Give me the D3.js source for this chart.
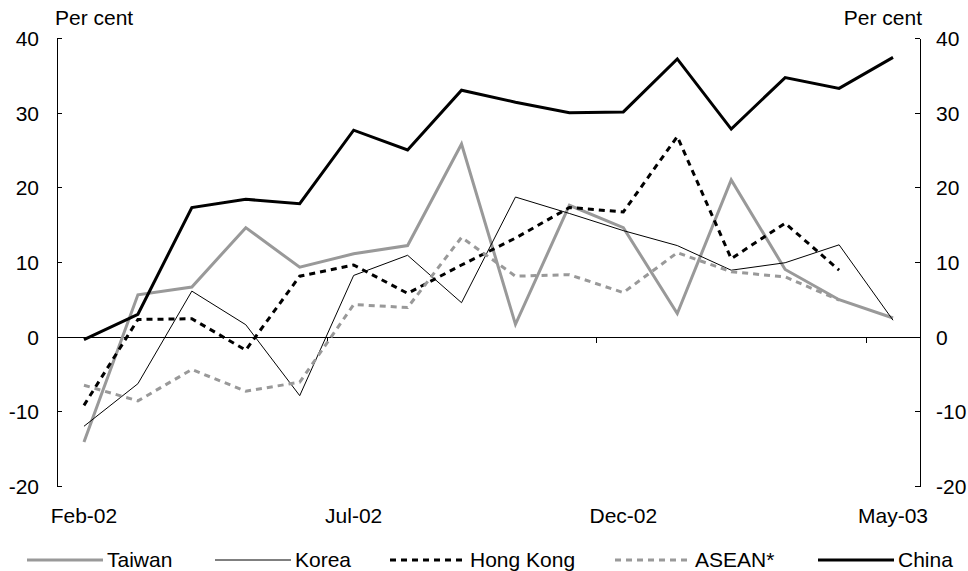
<!DOCTYPE html>
<html>
<head>
<meta charset="utf-8">
<script src="https://cdn.jsdelivr.net/npm/d3@7"></script>
<style>
  html, body { margin: 0; padding: 0; background: #fff; }
  svg { display: block; font-family: "Liberation Sans", Arial, sans-serif; }
  .axis path, .axis line { stroke: #000; shape-rendering: crispEdges; }
  .axis text { font-size: 21px; fill: #000; font-family: "Liberation Sans", Arial, sans-serif; }
</style>
</head>
<body>
<svg id="chart" width="968" height="571"></svg>
<script>
// Monthly categories
const months = ["Feb-02","Mar-02","Apr-02","May-02","Jun-02","Jul-02","Aug-02","Sep-02",
                "Oct-02","Nov-02","Dec-02","Jan-03","Feb-03","Mar-03","Apr-03","May-03"];
const xLabels = ["Feb-02","Jul-02","Dec-02","May-03"];
const yTicks = [-20, -10, 0, 10, 20, 30, 40];

// Year-ended growth, per cent
const taiwan   = [-14.1, 5.6, 6.65, 14.6, 9.3, 11.1, 12.2, 25.8, 1.65, 17.6, 14.6, 3.1, 21.0, 9.0, 4.95, 2.5];
const korea    = [-12.0, -6.3, 6.1, 1.6, -7.9, 8.2, 10.9, 4.55, 18.7, 16.5, 14.2, 12.2, 8.9, 9.9, 12.3, 2.2];
const hongKong = [-9.2, 2.3, 2.4, -1.8, 8.1, 9.6, 5.8, 9.6, 13.2, 17.3, 16.7, 26.8, 10.45, 15.2, 8.9, null];
const asean    = [-6.5, -8.6, -4.4, -7.3, -6.1, 4.3, 3.9, 13.3, 8.1, 8.3, 5.9, 11.25, 8.7, 8.0, 4.9, null];
const china    = [-0.4, 3.0, 17.3, 18.4, 17.8, 27.65, 25.0, 33.0, 31.4, 30.0, 30.1, 37.2, 27.8, 34.7, 33.25, 37.4];

const series = [
  { name: "Taiwan",    values: taiwan,   color: "#999999", width: 3, dash: null },
  { name: "Korea",     values: korea,    color: "#000000", width: 1, dash: null },
  { name: "Hong Kong", values: hongKong, color: "#000000", width: 3, dash: "6,5" },
  { name: "ASEAN*",    values: asean,    color: "#999999", width: 3, dash: "6,5" },
  { name: "China",     values: china,    color: "#000000", width: 3, dash: null }
];

const plotLeft = 57, plotRight = 920, plotTop = 38, plotBottom = 486;
const svg = d3.select("#chart");

const x = d3.scaleBand().domain(months).range([plotLeft, plotRight]).padding(0);
const xIdx = d3.scaleLinear().domain([0, months.length]).range([plotLeft, plotRight]);
const y = d3.scaleLinear().domain([-20, 40]).range([plotBottom, plotTop]);
const cx = m => x(m) + x.bandwidth() / 2;
const fmt = d => String(d);  // plain hyphen for negatives

// Left and right value axes, ticks pointing into the plot
svg.append("g").attr("class", "axis")
  .attr("transform", `translate(${plotLeft},0)`)
  .call(d3.axisLeft(y).tickValues(yTicks).tickFormat(fmt)
    .tickSizeInner(-5).tickSizeOuter(0).tickPadding(18))
  .call(g => g.selectAll("text").attr("dy", "0.35em"));

svg.append("g").attr("class", "axis")
  .attr("transform", `translate(${plotRight},0)`)
  .call(d3.axisRight(y).tickValues(yTicks).tickFormat(fmt)
    .tickSizeInner(-5).tickSizeOuter(0).tickPadding(16))
  .call(g => g.selectAll("text").attr("dy", "0.35em"));

// Horizontal axis along zero with ticks between every fifth month
svg.append("g").attr("class", "axis")
  .attr("transform", `translate(0,${y(0)})`)
  .call(d3.axisBottom(xIdx).tickValues([5, 10, 15]).tickFormat("").tickSizeInner(6).tickSizeOuter(0));

svg.append("g").selectAll("text").data(xLabels).join("text")
  .attr("x", d => cx(d)).attr("y", 523)
  .attr("text-anchor", "middle").attr("font-size", 21).text(d => d);

// Unit labels
svg.append("text").attr("x", 55).attr("y", 25).attr("font-size", 21).text("Per cent");
svg.append("text").attr("x", 922).attr("y", 25).attr("font-size", 21)
  .attr("text-anchor", "end").text("Per cent");

// Series lines
const line = d3.line()
  .defined(d => d.v !== null)
  .x(d => cx(d.m))
  .y(d => y(d.v));

svg.append("g").selectAll("path").data(series).join("path")
  .attr("fill", "none")
  .attr("stroke", d => d.color)
  .attr("stroke-width", d => d.width)
  .attr("stroke-dasharray", d => d.dash)
  .attr("stroke-linejoin", "miter")
  .attr("d", d => line(months.map((m, i) => ({ m, v: d.values[i] }))));

// Legend
const legendX = [27, 215, 390, 615, 818];
const legendY = 560;
const lg = svg.append("g").selectAll("g").data(series).join("g")
  .attr("transform", (d, i) => `translate(${legendX[i]},${legendY})`);
lg.append("line")
  .attr("x1", 0).attr("x2", 76).attr("y1", 0).attr("y2", 0)
  .attr("stroke", d => d.color)
  .attr("stroke-width", d => d.width)
  .attr("stroke-dasharray", d => d.dash);
lg.append("text")
  .attr("x", 80).attr("y", 0).attr("dy", "0.35em")
  .attr("font-size", 21).text(d => d.name);
</script>
</body>
</html>
